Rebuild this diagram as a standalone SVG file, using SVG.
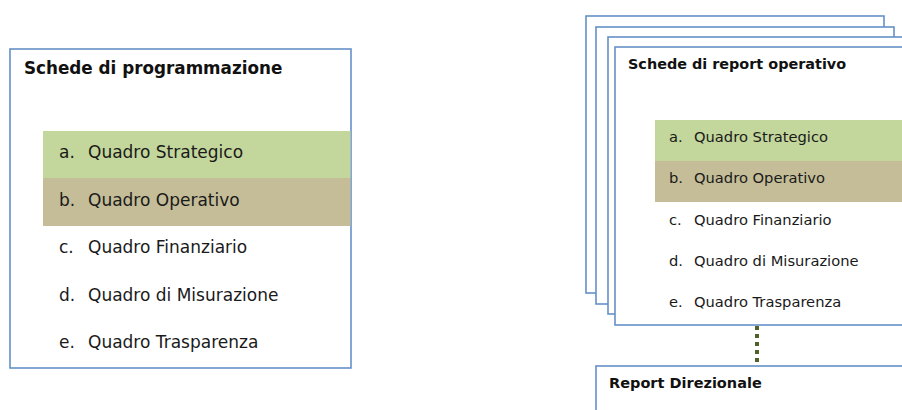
<svg xmlns="http://www.w3.org/2000/svg" width="902" height="410" viewBox="0 0 902 410">
<style>
.box{fill:#fff;stroke:#6590c8;stroke-width:1.6}
.green{fill:#c3d69b}
.tan{fill:#c4bd97}
.t{font-family:"DejaVu Sans",Verdana,sans-serif;fill:#1a1a1a}
.h{font-family:"DejaVu Sans",Verdana,sans-serif;font-weight:bold;fill:#111}
.conn{stroke:#4f6228;stroke-width:4;stroke-dasharray:4 4;fill:none}
</style>
<rect width="902" height="410" fill="#fff"/>
<g id="schede-programmazione">
<rect class="box" x="10" y="49" width="341" height="319"/>
<text class="h" x="24" y="74" font-size="16.8">Schede di programmazione</text>
<rect class="green" x="43" y="131" width="307.5" height="47"/>
<rect class="tan" x="43" y="178" width="307.5" height="48"/>
<g class="t" font-size="17">
<text x="59" y="158">a.</text><text x="88" y="158">Quadro Strategico</text>
<text x="59" y="206">b.</text><text x="88" y="206">Quadro Operativo</text>
<text x="59" y="253">c.</text><text x="88" y="253">Quadro Finanziario</text>
<text x="59" y="301">d.</text><text x="88" y="301">Quadro di Misurazione</text>
<text x="59" y="348">e.</text><text x="88" y="348">Quadro Trasparenza</text>
</g>
</g>
<g id="connectors">
<line class="conn" x1="757" y1="326" x2="757" y2="364"/>
</g>
<g id="schede-report-operativo">
<rect class="box" x="586" y="16" width="298" height="277"/>
<rect class="box" x="596" y="27" width="298" height="277"/>
<rect class="box" x="608" y="37" width="310" height="277"/>
<rect class="box" x="615" y="47" width="310" height="278"/>
<text class="h" x="628" y="69" font-size="14.4">Schede di report operativo</text>
<rect class="green" x="655" y="120" width="247" height="41"/>
<rect class="tan" x="655" y="161" width="247" height="41"/>
<g class="t" font-size="14.7">
<text x="669" y="142">a.</text><text x="694" y="142">Quadro Strategico</text>
<text x="669" y="183">b.</text><text x="694" y="183">Quadro Operativo</text>
<text x="669" y="225">c.</text><text x="694" y="225">Quadro Finanziario</text>
<text x="669" y="266">d.</text><text x="694" y="266">Quadro di Misurazione</text>
<text x="669" y="307">e.</text><text x="694" y="307">Quadro Trasparenza</text>
</g>
</g>
<g id="report-direzionale">
<rect class="box" x="596" y="366" width="320" height="60"/>
<text class="h" x="609" y="388" font-size="14.5">Report Direzionale</text>
</g>
</svg>
